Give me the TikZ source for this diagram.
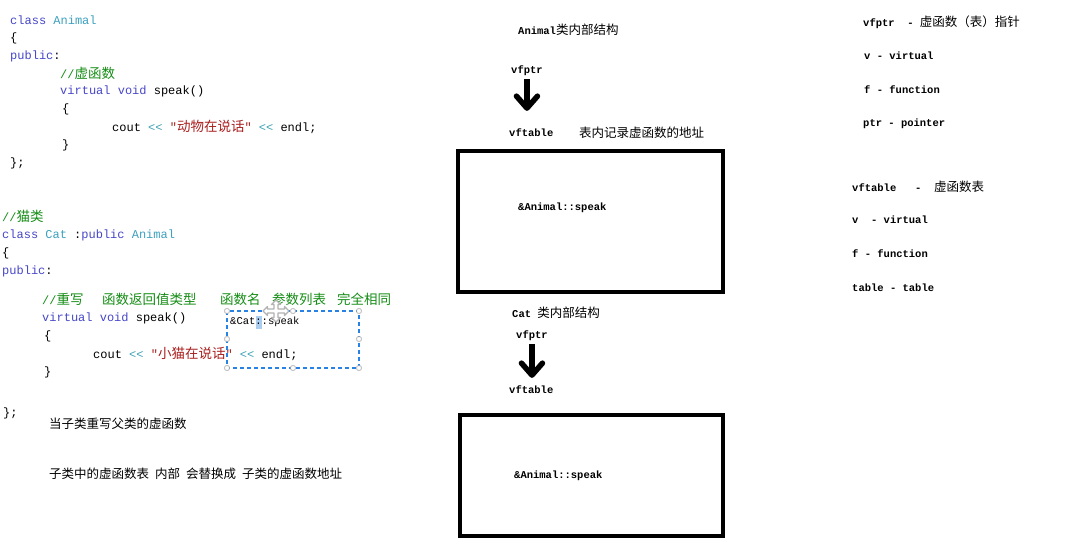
\documentclass[tikz,border=0pt]{standalone}
\usepackage{fontspec}
\newfontfamily\cjkfont{Noto Sans CJK SC}
\newfontfamily\codemono{Liberation Mono}
\usetikzlibrary{arrows.meta,calc}
\definecolor{kwc}{RGB}{70,70,200}
\definecolor{tyc}{RGB}{60,160,190}
\definecolor{cmc}{RGB}{20,140,20}
\definecolor{stc}{RGB}{170,30,30}
\definecolor{opc}{RGB}{60,160,180}
\definecolor{selblue}{RGB}{40,130,230}
\definecolor{hlblue}{RGB}{170,205,240}
\newcommand{\zc}[1]{{\cjkfont\mdseries\fontsize{13.5}{16}\selectfont #1}}
\newcommand{\zh}[1]{{\cjkfont\mdseries\fontsize{12.5}{14}\selectfont #1}}
\newcommand{\ckw}[1]{\textcolor{kwc}{#1}}
\newcommand{\cty}[1]{\textcolor{tyc}{#1}}
\newcommand{\cop}[1]{\textcolor{opc}{#1}}
\newcommand{\cst}[1]{\textcolor{stc}{#1}}
\tikzset{
  x=1pt, y=-1pt,
  code/.style={anchor=west, inner sep=0pt, font=\codemono\fontsize{12}{14}\selectfont},
  cmt/.style={code, text=cmc},
  lbl/.style={anchor=west, inner sep=0pt, font=\codemono\bfseries\fontsize{10.5}{12}\selectfont},
  zlbl/.style={anchor=west, inner sep=0pt, font=\cjkfont\fontsize{12.5}{14}\selectfont},
  bigbox/.style={draw=black, line width=4pt, minimum width=265pt, minimum height=141pt, inner sep=0pt},
  bigarrow/.style={line width=5.5pt, -{Straight Barb[length=12pt,width=21pt,round]}},
  selbox/.style={draw=selblue, line width=1.1pt, dash pattern=on 4pt off 3pt},
  handle/.style={draw=gray!70, fill=white, line width=0.6pt, minimum size=4.5pt, inner sep=0pt, rounded corners=1pt},
  cursorshape/.style={draw=gray!60, fill=white, line width=1.2pt, line join=round},
}
\begin{document}
\begin{tikzpicture}
\useasboundingbox (0,0) rectangle (1068,550);
% ---------- Animal code ----------
\node[code] (a1) at (10,20) {\ckw{class} \cty{Animal}};
\node[code] (a2) at (10,38) {\{};
\node[code] (a3) at (10,56) {\ckw{public}:};
\node[cmt]  (a4) at (60,73) {//\zc{虚函数}};
\node[code] (a5) at (60,91) {\ckw{virtual} \ckw{void} speak()};
\node[code] (a6) at (62,109) {\{};
\node[code] (a7) at (112,127) {cout \cop{<{}<} \cst{"\zc{动物在说话}"} \cop{<{}<} endl;};
\node[code] (a8) at (62,145) {\}};
\node[code] (a9) at (10,163) {\};};
% ---------- Cat code ----------
\node[cmt]  (c1) at (2,216) {//\zc{猫类}};
\node[code] (c2) at (2,235) {\ckw{class} \cty{Cat} :\ckw{public} \cty{Animal}};
\node[code] (c3) at (2,253) {\{};
\node[code] (c4) at (2,271) {\ckw{public}:};
\node[cmt]  (c5a) at (42,299) {//\zc{重写}};
\node[cmt]  (c5b) at (102,299) {\zc{函数返回值类型}};
\node[cmt]  (c5c) at (220,299) {\zc{函数名}};
\node[cmt]  (c5d) at (272,299) {\zc{参数列表}};
\node[cmt]  (c5e) at (337,299) {\zc{完全相同}};
\node[code] (c6) at (42,318) {\ckw{virtual} \ckw{void} speak()};
\node[code] (c7) at (44,336) {\{};
\node[code] (c8) at (93,354) {cout \cop{<{}<} \cst{"\zc{小猫在说话}"} \cop{<{}<} endl;};
\node[code] (c9) at (44,372) {\}};
\node[code] (c10) at (3,413) {\};};
% ---------- selection box ----------
\fill[hlblue] (255.5,316) rectangle (261.5,329);
\node[lbl, font=\codemono\fontsize{10.5}{12}\selectfont] (selt) at (230,322) {\&Cat::speak};
\draw[selbox] (227,311) rectangle (359,368);
\foreach \hx/\hy [count=\i] in {227/311,293/311,359/311,227/339,359/339,227/368,293/368,359/368}
  \node[handle] (h\i) at (\hx,\hy) {};
% move cursor
\draw[cursorshape, shift={(276,311)}]
  (0,-11) -- (4.5,-6.5) -- (2,-6.5) -- (2,-2) -- (8.5,-2) -- (8.5,-4.5) -- (13,0) -- (8.5,4.5) -- (8.5,2)
  -- (2,2) -- (2,6.5) -- (4.5,6.5) -- (0,11) -- (-4.5,6.5) -- (-2,6.5) -- (-2,2) -- (-8.5,2)
  -- (-8.5,4.5) -- (-13,0) -- (-8.5,-4.5) -- (-8.5,-2) -- (-2,-2) -- (-2,-6.5) -- (-4.5,-6.5) -- cycle;
% ---------- notes ----------
\node[zlbl] (n1) at (49,424) {当子类重写父类的虚函数};
\node[zlbl] (n2) at (49,474) {子类中的虚函数表\hspace{6pt}内部\hspace{6pt}会替换成\hspace{6pt}子类的虚函数地址};
% ---------- Animal structure ----------
\node[lbl] (t1) at (518,30) {Animal\zh{类内部结构}};
\node[lbl] (p1) at (511,71) {vfptr};
\node[lbl] (v1) at (509,133) {vftable};
\node[zlbl] (r1) at (579,133) {表内记录虚函数的地址};
\draw[bigarrow, shorten <=3pt, shorten >=18pt] (p1.south) -- (p1.south |- v1.north);
\node[bigbox] (b1) at (590.5,221.5) {};
\node[lbl] (s1) at (518,208) {\&Animal::speak};
% ---------- Cat structure ----------
\node[lbl] (t2) at (512,313) {Cat \zh{类内部结构}};
\node[lbl] (p2) at (516,336) {vfptr};
\node[lbl] (v2) at (509,390) {vftable};
\draw[bigarrow, shorten <=3pt, shorten >=8pt] (p2.south) -- (p2.south |- v2.north);
\node[bigbox, minimum width=263pt, minimum height=121pt] (b2) at (591.5,475.5) {};
\node[lbl] (s2) at (514,476) {\&Animal::speak};
% ---------- glossary ----------
\node[lbl] (g1) at (863,22) {vfptr\ \ -\ \zh{虚函数（表）指针}};
\node[lbl] (g2) at (864,56) {v - virtual};
\node[lbl] (g3) at (864,90) {f - function};
\node[lbl] (g4) at (863,124) {ptr - pointer};
\node[lbl] (g5) at (852,187) {vftable\ \ \ -\ \ \zh{虚函数表}};
\node[lbl] (g6) at (852,220) {v\ \ - virtual};
\node[lbl] (g7) at (852,254) {f - function};
\node[lbl] (g8) at (852,288) {table - table};
\end{tikzpicture}
\end{document}
